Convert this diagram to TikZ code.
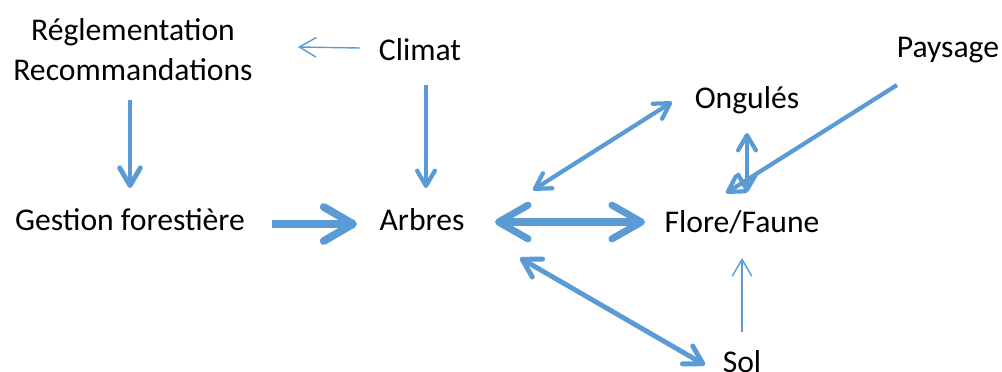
\documentclass[tikz,border=0pt]{standalone}
\usepackage{fontspec}
\setmainfont{Carlito}
\usepackage{tikz}
\usetikzlibrary{calc,positioning,arrows.meta}

\definecolor{arrowblue}{HTML}{5B9BD5}

\begin{document}
\begin{tikzpicture}[x=0.025cm, y=-0.025cm]
 \useasboundingbox (0,0) rectangle (1002,371);

\tikzstyle{label}=[inner sep=0pt,font=\fontsize{22.5pt}{28.4pt}\selectfont,align=center]
\tikzstyle{thinarrow}=[arrowblue,line width=1pt,-{Straight Barb[length=12pt,width=14pt]}]
\tikzstyle{midarrow}=[arrowblue,line width=3pt,-{Straight Barb[round,length=0pt 3.6,width=0pt 4.2]}]
\tikzstyle{bigarrow}=[arrowblue,line width=5.5pt,-{Straight Barb[round,length=0pt 3.8,width=0pt 4.4]}]

   %nodes
    \node (regl) [label] at (133,50) {Réglementation\\Recommandations};
    \node (climat) [label] at (420,50) {Climat};
    \node (paysage) [label] at (948,50) {Paysage};
    \node (ongules) [label] at (747,100) {Ongulés};
    \node (gestion) [label] at (130,220) {Gestion forestière};
    \node (arbres) [label] at (422,220) {Arbres};
    \node (flore) [label] at (742,222) {Flore/Faune};
    \node (sol) [label] at (742,362) {Sol};

   %draw arrows
    \draw [thinarrow] ($(climat.center)+(-60,-2)$) -- ($(regl.center)+(165,-3)$);
    \draw [midarrow,line width=3.5pt] ($(regl.center)+(-3,50)$) -- ($(gestion.center)+(0,-32)$);
    \draw [midarrow] ($(climat.center)+(6,35)$) -- ($(arbres.center)+(4,-32)$);
    \draw [bigarrow] ($(gestion.center)+(142,4)$) -- ($(arbres.center)+(-65,4)$);
    \draw [bigarrow,{Straight Barb[round,length=0pt 4.2,width=0pt 4.8]}-{Straight Barb[round,length=0pt 4.2,width=0pt 4.8]},line width=5pt] ($(arbres.center)+(73,2)$) -- ($(flore.center)+(-97,0)$);
    \draw [midarrow,{Straight Barb[round,length=0pt 3.6,width=0pt 4.2]}-{Straight Barb[round,length=0pt 3.6,width=0pt 4.2]}] ($(arbres.center)+(111,-30)$) -- ($(ongules.center)+(-75,2)$);
    \draw [midarrow,{Straight Barb[round,length=0pt 3.6,width=0pt 4.2]}-{Straight Barb[round,length=0pt 3.6,width=0pt 4.2]},line width=3.5pt] ($(arbres.center)+(98,38)$) -- ($(sol.center)+(-37,3)$);
    \draw [midarrow,{Straight Barb[round,length=0pt 3.6,width=0pt 4.2]}-{Straight Barb[round,length=0pt 3.6,width=0pt 4.2]}] ($(flore.center)+(5,-30)$) -- ($(ongules.center)+(0,33)$);
    \draw [midarrow] ($(paysage.center)+(-51,35)$) -- ($(flore.center)+(-16,-29)$);
    \draw [thinarrow] ($(sol.center)+(0,-30)$) -- ($(flore.center)+(0,36)$);

\end{tikzpicture}
\end{document}
